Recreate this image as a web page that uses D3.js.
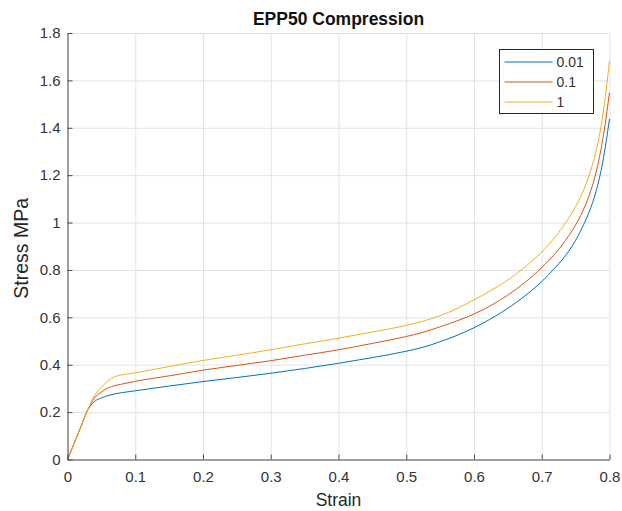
<!DOCTYPE html>
<html>
<head>
<meta charset="utf-8">
<script src="https://cdn.jsdelivr.net/npm/d3@7"></script>
<style>
body { margin:0; background:#fff; }
svg text { font-family: "Liberation Sans", Arial, sans-serif; fill:#262626; }
.axis path, .axis line { stroke:#4d4d4d; }
.axis text { font-size:15px; fill:#333; font-family: "Liberation Sans", Arial, sans-serif; }
.grid line { stroke:#e3e3e3; }
.grid path { display:none; }
</style>
</head>
<body>
<svg width="622" height="511"></svg>
<script>
// data
var strain = [0, 0.01, 0.02, 0.03, 0.04, 0.05, 0.06, 0.07, 0.08, 0.1, 0.125, 0.15, 0.2, 0.25, 0.3, 0.35, 0.4, 0.45, 0.5, 0.525, 0.55, 0.575, 0.6, 0.625, 0.65, 0.675, 0.7, 0.72, 0.74, 0.75, 0.76, 0.77, 0.78, 0.79, 0.8];
var s001 = [0, 0.07, 0.14, 0.21, 0.245, 0.26, 0.27, 0.277, 0.282, 0.29, 0.3, 0.31, 0.329, 0.346, 0.364, 0.384, 0.406, 0.43, 0.457, 0.474, 0.497, 0.524, 0.556, 0.594, 0.638, 0.69, 0.751, 0.81, 0.88, 0.925, 0.98, 1.045, 1.13, 1.255, 1.437];
var s01 = [0, 0.07, 0.14, 0.21, 0.26, 0.285, 0.302, 0.312, 0.318, 0.33, 0.342, 0.353, 0.377, 0.397, 0.417, 0.44, 0.463, 0.49, 0.519, 0.537, 0.56, 0.585, 0.614, 0.65, 0.694, 0.747, 0.81, 0.87, 0.945, 0.99, 1.045, 1.115, 1.21, 1.35, 1.548];
var s1 = [0, 0.07, 0.14, 0.21, 0.27, 0.305, 0.332, 0.35, 0.357, 0.366, 0.379, 0.392, 0.418, 0.44, 0.463, 0.488, 0.512, 0.538, 0.566, 0.584, 0.607, 0.637, 0.674, 0.713, 0.758, 0.812, 0.876, 0.94, 1.02, 1.068, 1.125, 1.2, 1.3, 1.45, 1.683];
var seriesNames = ["0.01", "0.1", "1"];
var seriesVals = [s001, s01, s1];
var colors = ["#0072BD", "#D95319", "#EDB120"];
var xTicks = [0, 0.1, 0.2, 0.3, 0.4, 0.5, 0.6, 0.7, 0.8];
var yTicks = [0, 0.2, 0.4, 0.6, 0.8, 1, 1.2, 1.4, 1.6, 1.8];

var mLeft = 67.5, mRight = 609.5, mTop = 33, mBottom = 459.5;
var svg = d3.select("svg");

var x = d3.scaleLinear().domain([0, 0.8]).range([mLeft, mRight]);
var y = d3.scaleLinear().domain([0, 1.8]).range([mBottom, mTop]);

//grid
svg.append("g").attr("class","grid").attr("transform","translate(0,"+mBottom+")")
	.call(d3.axisBottom(x).tickValues(xTicks).tickSize(-(mBottom-mTop)).tickFormat(""));
svg.append("g").attr("class","grid").attr("transform","translate("+mLeft+",0)")
	.call(d3.axisLeft(y).tickValues(yTicks).tickSize(-(mRight-mLeft)).tickFormat(""));

//lines
var line = d3.line()
	.x(function(d,i){ return x(strain[i]); })
	.y(function(d){ return y(d); })
	.curve(d3.curveMonotoneX);
seriesVals.forEach(function(vals, k){
	svg.append("path").attr("d", line(vals))
		.attr("fill","none").attr("stroke", colors[k]).attr("stroke-width", 1);
});

//axis
var xAxis = d3.axisBottom(x).tickValues(xTicks).tickSizeInner(-5).tickSizeOuter(0).tickPadding(12)
	.tickFormat(function(d){ return d === 0 ? "0" : d3.format(".1f")(d); });
var yAxis = d3.axisLeft(y).tickValues(yTicks).tickSizeInner(-5).tickSizeOuter(0).tickPadding(7)
	.tickFormat(function(d){ return d === 0 || d === 1 ? String(d) : d3.format(".1f")(d); });
svg.append("g").attr("class","axis").attr("transform","translate(0,"+mBottom+")").call(xAxis);
svg.append("g").attr("class","axis").attr("transform","translate("+mLeft+",0)").call(yAxis);

//text
svg.append("text").attr("x",(mLeft+mRight)/2).attr("y",25).attr("text-anchor","middle")
	.style("font-size","17.5px").style("font-weight","bold").style("fill","#111").text("EPP50 Compression");
svg.append("text").attr("x",(mLeft+mRight)/2).attr("y",506).attr("text-anchor","middle")
	.style("font-size","17.5px").text("Strain");
svg.append("text").attr("transform","translate(28,"+((mTop+mBottom)/2+2)+") rotate(-90)").attr("text-anchor","middle")
	.style("font-size","19.5px").text("Stress MPa");

//legend
var gLegend = svg.append("g").attr("transform","translate(499.5,49.5)");
gLegend.append("rect").attr("width",94).attr("height",64)
	.attr("fill","#fff").attr("stroke","#262626").attr("stroke-width",1);
var legs = gLegend.selectAll(".legends").data(seriesNames).enter().append("g")
	.attr("transform", function(d,i){ return "translate(0," + (12.5 + i*20) + ")"; });
legs.append("line").attr("x1",5).attr("x2",53).attr("y1",0).attr("y2",0)
	.attr("stroke", function(d,i){ return colors[i]; }).attr("stroke-width",1);
legs.append("text").attr("x",57).attr("y",5).style("font-size","14px").style("fill","#333")
	.text(function(d){ return d; });
</script>
</body>
</html>
